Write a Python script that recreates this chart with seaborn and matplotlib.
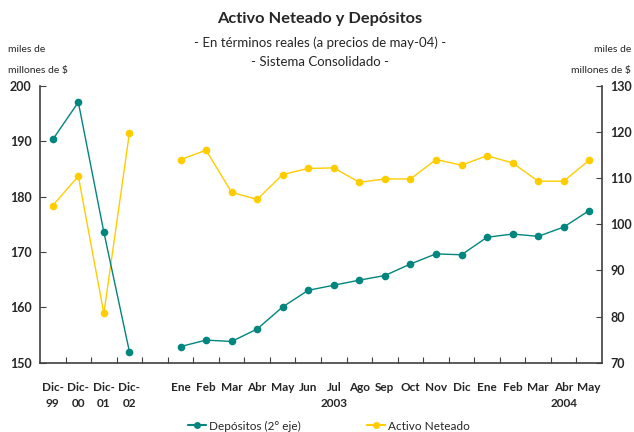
import matplotlib
matplotlib.use("Agg")
import matplotlib.pyplot as plt
from matplotlib.ticker import FixedLocator, NullFormatter
from matplotlib.lines import Line2D
import seaborn as sns
import pandas as pd

# Category slots: four year-end points, an empty spacer slot, then monthly data
categories = ["Dic-\n99", "Dic-\n00", "Dic-\n01", "Dic-\n02", "",
              "Ene", "Feb", "Mar", "Abr", "May", "Jun", "Jul\n2003", "Ago",
              "Sep", "Oct", "Nov", "Dic", "Ene", "Feb", "Mar", "Abr\n2004", "May"]

# Activo Neteado (left axis, miles de millones de $)
activo_anual = [178.4, 183.7, 158.9, 191.5]
activo_mensual = [186.7, 188.4, 180.8, 179.5, 184.0, 185.1, 185.2, 182.6, 183.2,
                  183.2, 186.7, 185.7, 187.4, 186.1, 182.8, 182.8, 186.6]

# Depósitos (right axis, miles de millones de $)
depositos_anual = [118.4, 126.5, 98.3, 72.4]
depositos_mensual = [73.5, 74.9, 74.6, 77.3, 82.1, 85.7, 86.8, 87.9, 88.9,
                     91.4, 93.6, 93.4, 97.2, 97.9, 97.4, 99.4, 103.0]

TEAL = "#00857f"
YELLOW = "#ffcc00"
SPINE = "#404040"

sns.set_theme(style="white")
plt.rcParams["font.family"] = ["Lato", "DejaVu Sans"]

pos = list(range(len(categories)))
n_year = len(activo_anual)
start_m = n_year + 1


def frame(values, first):
    return pd.DataFrame({"pos": pos[first:first + len(values)], "valor": values})


fig = plt.figure(figsize=(6.34, 4.32), dpi=100)
ax = fig.add_axes([40 / 634, 69.3 / 432, 562 / 634, 276.7 / 432])
ax2 = ax.twinx()

line_kw = dict(x="pos", y="valor", marker="o", markersize=5.5,
               markeredgewidth=0, linewidth=1.0, estimator=None)
for vals, first in [(activo_anual, 0), (activo_mensual, start_m)]:
    sns.lineplot(data=frame(vals, first), ax=ax, color=YELLOW, **line_kw)
for vals, first in [(depositos_anual, 0), (depositos_mensual, start_m)]:
    sns.lineplot(data=frame(vals, first), ax=ax2, color=TEAL, **line_kw)

ax.set_xlim(-0.5, len(categories) - 0.5)
ax.set_ylim(150, 200)
ax2.set_ylim(70, 130)
ax.set_yticks(range(150, 201, 10))
ax2.set_yticks(range(70, 131, 10))

# x ticks at slot boundaries, labels centred in each slot
ax.xaxis.set_major_locator(FixedLocator([p + 0.5 for p in pos[:-1]]))
ax.xaxis.set_major_formatter(NullFormatter())
ax.xaxis.set_minor_locator(FixedLocator(pos))
ax.set_xticklabels(categories, minor=True)
ax.tick_params(axis="x", which="major", direction="in", length=4,
               width=0.8, color=SPINE, bottom=True)
ax.tick_params(axis="x", which="minor", length=0, pad=14,
               labelsize=8.5)
for lbl in ax.get_xticklabels(minor=True):
    lbl.set_fontweight("bold")
    lbl.set_linespacing(1.55)
    lbl.set_verticalalignment("top")

for a, side in [(ax, "left"), (ax2, "right")]:
    a.tick_params(axis="y", direction="in", length=4, width=0.8,
                  color=SPINE, labelsize=9, pad=6, **{side: True})
    for lbl in a.get_yticklabels():
        lbl.set_fontweight("bold")
    a.set_xlabel("")
    a.set_ylabel("")
    a.spines["top"].set_visible(False)
    for s in ["left", "right", "bottom"]:
        a.spines[s].set_color(SPINE)
        a.spines[s].set_linewidth(1.2)
ax.spines["right"].set_visible(False)
ax2.spines["left"].set_visible(False)
ax2.spines["bottom"].set_visible(False)

fig.text(320 / 634, 1 - 19 / 432, "Activo Neteado y Depósitos",
         ha="center", va="center", fontsize=11.8, fontweight="bold")
fig.text(320 / 634, 1 - 43 / 432, "- En términos reales (a precios de may-04) -",
         ha="center", va="center", fontsize=9.5)
fig.text(320 / 634, 1 - 62 / 432, "- Sistema Consolidado -",
         ha="center", va="center", fontsize=9.5)
fig.text(8 / 634, 1 - 50 / 432, "miles de", ha="left", va="center", fontsize=7.5)
fig.text(8 / 634, 1 - 70 / 432, "millones de $", ha="left", va="center", fontsize=7.5)
fig.text(631 / 634, 1 - 50 / 432, "miles de", ha="right", va="center", fontsize=7.5)
fig.text(631 / 634, 1 - 70 / 432, "millones de $", ha="right", va="center", fontsize=7.5)

handles = [Line2D([], [], color=TEAL, marker="o", markersize=5, markeredgewidth=0, lw=1.5),
           Line2D([], [], color=YELLOW, marker="o", markersize=5, markeredgewidth=0, lw=1.5)]
fig.legend(handles, ["Depósitos (2° eje)", "Activo Neteado"], loc="center",
           bbox_to_anchor=(329 / 634, 1 - 426 / 432), ncol=2, frameon=False,
           fontsize=8.5, handlelength=1.5, handletextpad=0.3, columnspacing=5.6,
           borderpad=0)

fig.savefig("out.png", dpi=100)
